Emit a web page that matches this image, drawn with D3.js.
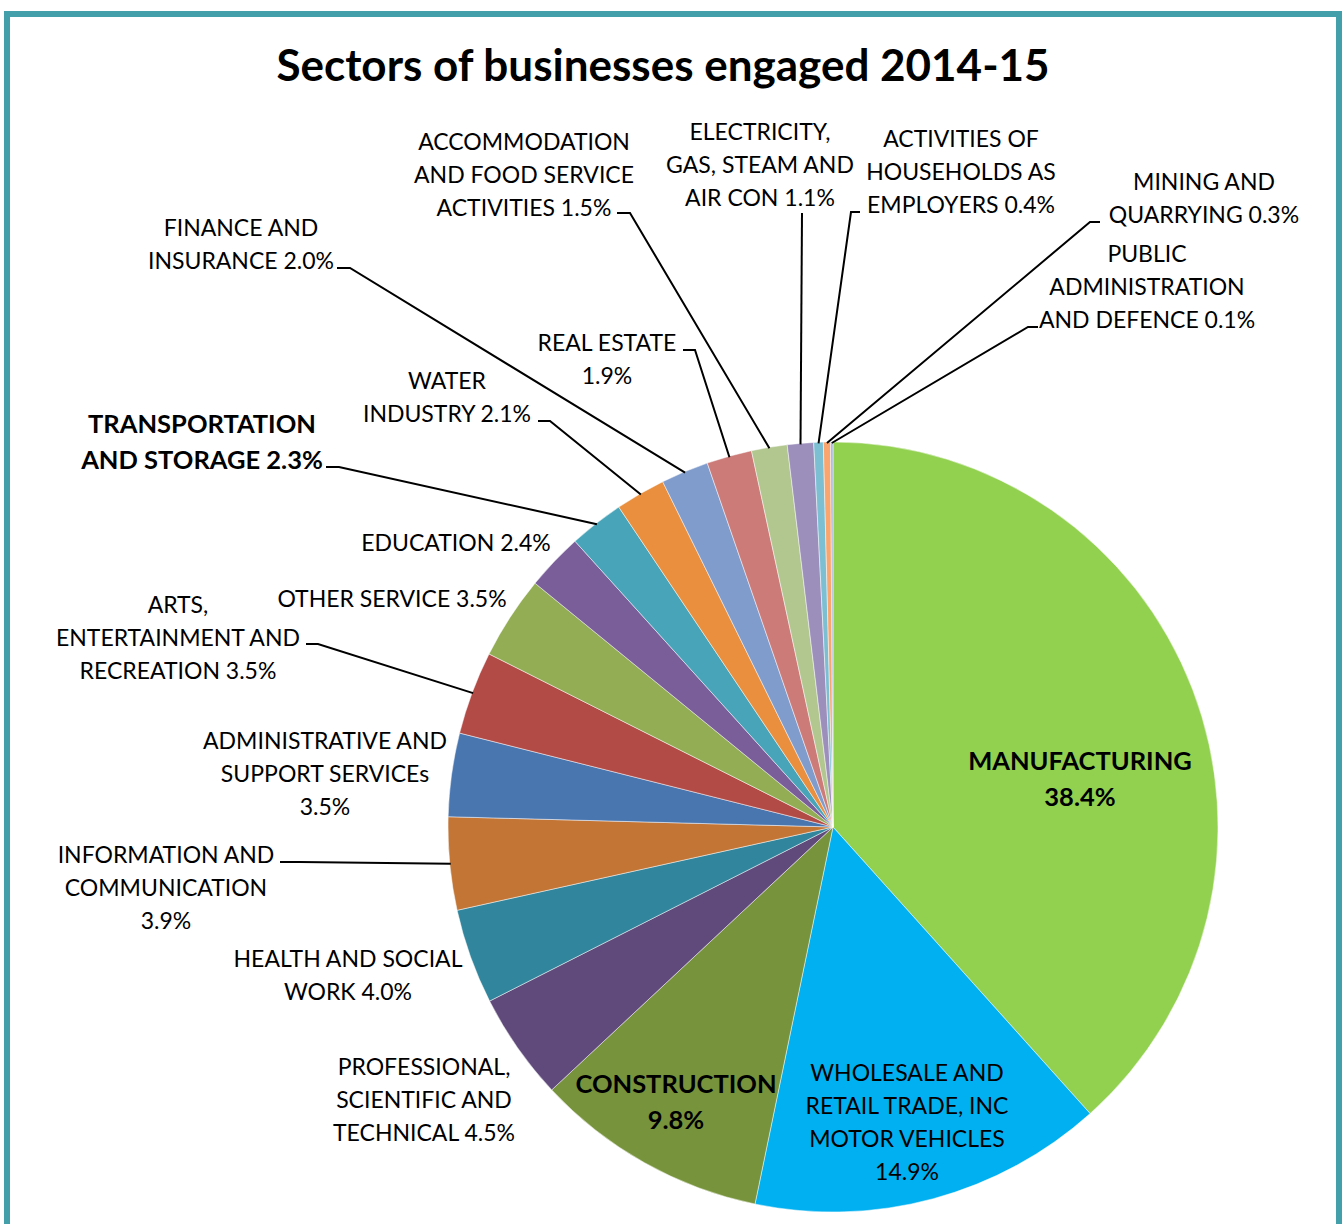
<!DOCTYPE html>
<html>
<head>
<meta charset="utf-8">
<script src="https://cdn.jsdelivr.net/npm/d3@7"></script>
<style>
  body { margin: 0; background: #fff; }
  svg text { font-family: Lato, "Open Sans", sans-serif; fill: #000; }
</style>
</head>
<body>
<div id="container"></div>
<script>
/* DATA */
const sectors = [
  "MANUFACTURING", "WHOLESALE AND RETAIL TRADE, INC MOTOR VEHICLES", "CONSTRUCTION",
  "PROFESSIONAL, SCIENTIFIC AND TECHNICAL", "HEALTH AND SOCIAL WORK", "INFORMATION AND COMMUNICATION",
  "ADMINISTRATIVE AND SUPPORT SERVICEs", "ARTS, ENTERTAINMENT AND RECREATION", "OTHER SERVICE",
  "EDUCATION", "TRANSPORTATION AND STORAGE", "WATER INDUSTRY", "FINANCE AND INSURANCE",
  "REAL ESTATE", "ACCOMMODATION AND FOOD SERVICE ACTIVITIES", "ELECTRICITY, GAS, STEAM AND AIR CON",
  "ACTIVITIES OF HOUSEHOLDS AS EMPLOYERS", "MINING AND QUARRYING", "PUBLIC ADMINISTRATION AND DEFENCE"
];
const shares = [38.4, 14.9, 9.8, 4.5, 4.0, 3.9, 3.5, 3.5, 3.5, 2.4, 2.3, 2.1, 2.0, 1.9, 1.5, 1.1, 0.4, 0.3, 0.1];
// label text as it is wrapped in the chart, {v} = the share
const labelLines = [
  ["MANUFACTURING", "{v}"],
  ["WHOLESALE AND", "RETAIL TRADE, INC", "MOTOR VEHICLES", "{v}"],
  ["CONSTRUCTION", "{v}"],
  ["PROFESSIONAL,", "SCIENTIFIC AND", "TECHNICAL {v}"],
  ["HEALTH AND SOCIAL", "WORK {v}"],
  ["INFORMATION AND", "COMMUNICATION", "{v}"],
  ["ADMINISTRATIVE AND", "SUPPORT SERVICEs", "{v}"],
  ["ARTS,", "ENTERTAINMENT AND", "RECREATION {v}"],
  ["OTHER SERVICE {v}"],
  ["EDUCATION {v}"],
  ["TRANSPORTATION", "AND STORAGE {v}"],
  ["WATER", "INDUSTRY {v}"],
  ["FINANCE AND", "INSURANCE {v}"],
  ["REAL ESTATE", "{v}"],
  ["ACCOMMODATION", "AND FOOD SERVICE", "ACTIVITIES {v}"],
  ["ELECTRICITY,", "GAS, STEAM AND", "AIR CON {v}"],
  ["ACTIVITIES OF", "HOUSEHOLDS AS", "EMPLOYERS {v}"],
  ["MINING AND", "QUARRYING {v}"],
  ["PUBLIC", "ADMINISTRATION", "AND DEFENCE {v}"]
];
const boldSectors = ["MANUFACTURING", "CONSTRUCTION", "TRANSPORTATION AND STORAGE"];
const palette = ["#92d050", "#00b0f0", "#77933c", "#604a7b", "#31859c", "#c27535", "#4a76b0",
  "#b24a46", "#93ad55", "#7a5e9a", "#47a4b9", "#e98f3e", "#7f9ccc", "#cc7b79", "#b2c78f",
  "#9d8fbc", "#7cbfd3", "#f9a56d", "#a5b8dd"];

/* LAYOUT (label block centre x, first baseline y, optional leader start + tick end) */
const labelPos = [
  {x: 1080, y: 770}, {x: 907, y: 1081}, {x: 676, y: 1093}, {x: 424, y: 1075},
  {x: 348, y: 967}, {x: 166, y: 863, lead: [280, 862, 300]}, {x: 325, y: 749},
  {x: 178, y: 613, lead: [306, 644, 318]}, {x: 392, y: 607}, {x: 456, y: 551},
  {x: 202, y: 433, lead: [326, 467, 339]}, {x: 447, y: 389, lead: [538, 421, 550]},
  {x: 241, y: 236, lead: [337, 268, 350]}, {x: 607, y: 351, lead: [683, 350, 695]},
  {x: 524, y: 150, lead: [617, 213, 630]}, {x: 760, y: 140, lead: [802, 213, 802]},
  {x: 961, y: 147, lead: [860, 212, 851]}, {x: 1204, y: 190, lead: [1100, 222, 1090]},
  {x: 1147, y: 262, lead: [1038, 327, 1028]}
];

const width = 1344, height = 1224;
const cx = 833, cy = 827, radius = 385;

const svg = d3.select("#container").append("svg")
  .attr("width", width).attr("height", height);

// frame
svg.append("rect")
  .attr("x", 7).attr("y", 14)
  .attr("width", 1332).attr("height", 1300)
  .attr("fill", "none")
  .attr("stroke", "#43a0aa")
  .attr("stroke-width", 6);

// title
svg.append("text")
  .attr("x", 663).attr("y", 81)
  .attr("text-anchor", "middle")
  .style("font-size", "44px")
  .style("font-weight", "bold")
  .text("Sectors of businesses engaged 2014-15");

const colorScale = d3.scaleOrdinal().domain(sectors).range(palette);

const pie = d3.pie().sort(null).value(d => d.value);
const data = sectors.map((s, i) => ({name: s, value: shares[i], lines: labelLines[i], pos: labelPos[i]}));
const arcs = pie(data);

const arc = d3.arc().innerRadius(0).outerRadius(radius);

const g = svg.append("g").attr("transform", `translate(${cx},${cy})`);

g.selectAll("path.slice")
  .data(arcs)
  .join("path")
  .attr("class", "slice")
  .attr("d", arc)
  .attr("fill", d => colorScale(d.data.name))
  .attr("stroke", "#fff")
  .attr("stroke-opacity", 0.6)
  .attr("stroke-width", 0.8);

// leader lines
const line = d3.line();
svg.selectAll("path.leader")
  .data(arcs.filter(d => d.data.pos.lead))
  .join("path")
  .attr("class", "leader")
  .attr("fill", "none")
  .attr("stroke", "#000")
  .attr("stroke-width", 2)
  .attr("d", d => {
    const [x0, y0, x1] = d.data.pos.lead;
    const a = (d.startAngle + d.endAngle) / 2;
    const p = [cx + (radius - 1) * Math.sin(a), cy - (radius - 1) * Math.cos(a)];
    return line([[x0, y0], [x1, y0], p]);
  });

// labels
const labels = svg.selectAll("text.label")
  .data(arcs)
  .join("text")
  .attr("class", "label")
  .attr("text-anchor", "middle")
  .style("font-size", d => boldSectors.includes(d.data.name) ? "25.5px" : "23px")
  .style("font-weight", d => boldSectors.includes(d.data.name) ? "bold" : "normal");

labels.each(function(d) {
  const bold = boldSectors.includes(d.data.name);
  const lh = bold ? 36 : 33;
  d3.select(this).selectAll("tspan")
    .data(d.data.lines)
    .join("tspan")
    .attr("x", d.data.pos.x)
    .attr("y", (t, i) => d.data.pos.y + i * lh)
    .text(t => t.replace("{v}", d.data.value.toFixed(1) + "%"));
});
</script>
</body>
</html>
